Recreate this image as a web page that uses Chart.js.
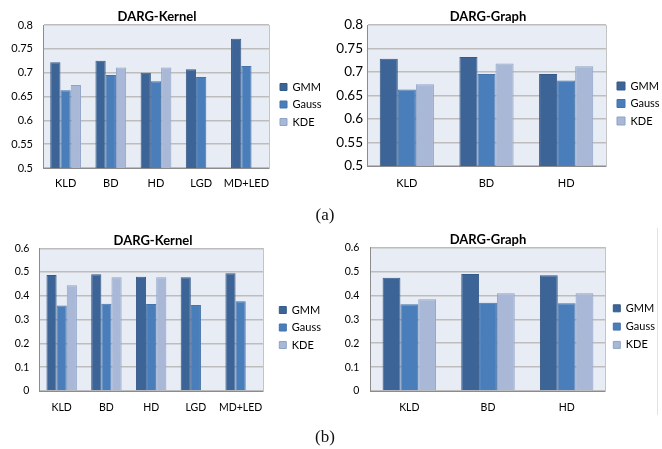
<!DOCTYPE html>
<html><head><meta charset="utf-8">
<script src="https://cdn.jsdelivr.net/npm/chart.js@4.4.1/dist/chart.umd.min.js"></script>
<style>
html,body{margin:0;padding:0;background:#fff;width:662px;height:449px;overflow:hidden;position:relative;}
canvas{position:absolute;}
.lab{position:absolute;font-family:"Liberation Serif","DejaVu Serif",serif;font-size:17px;color:#111;transform:translate(-50%,-50%);white-space:nowrap;}
</style></head><body>
<canvas id="cA" width="346" height="215" style="left:-16px;top:0px"></canvas>
<canvas id="cB" width="348" height="215" style="left:314px;top:0px"></canvas>
<canvas id="cC" width="354" height="215" style="left:-24px;top:225px"></canvas>
<canvas id="cD" width="348" height="215" style="left:314px;top:225px"></canvas>
<div class="lab" style="left:325px;top:215px">(a)</div>
<div class="lab" style="left:325px;top:437px">(b)</div>
<div style="position:absolute;left:657px;top:228px;width:1px;height:187px;background:#e2e2e2"></div>
<script>
// ---- data ----
const seriesNames = ['GMM', 'Gauss', 'KDE'];
const kernelCategories = ['KLD', 'BD', 'HD', 'LGD', 'MD+LED'];
const graphCategories = ['KLD', 'BD', 'HD'];

const yTicksTop = ['0.5', '0.55', '0.6', '0.65', '0.7', '0.75', '0.8'];
const yTicksBottom = ['0', '0.1', '0.2', '0.3', '0.4', '0.5', '0.6'];

// (a) DARG-Kernel
const aKernelGMM   = [0.722, 0.725, 0.700, 0.707, 0.771];
const aKernelGauss = [0.663, 0.695, 0.682, 0.691, 0.714];
const aKernelKDE   = [0.674, 0.711, 0.711, null, null];
// (a) DARG-Graph
const aGraphGMM   = [0.728, 0.732, 0.696];
const aGraphGauss = [0.663, 0.696, 0.682];
const aGraphKDE   = [0.674, 0.718, 0.712];
// (b) DARG-Kernel
const bKernelGMM   = [0.488, 0.491, 0.480, 0.478, 0.495];
const bKernelGauss = [0.360, 0.367, 0.366, 0.362, 0.377];
const bKernelKDE   = [0.445, 0.478, 0.478, null, null];
// (b) DARG-Graph
const bGraphGMM   = [0.474, 0.490, 0.485];
const bGraphGauss = [0.363, 0.370, 0.367];
const bGraphKDE   = [0.384, 0.409, 0.409];

// ---- styling ----
const FONT = 'Lato, "Open Sans", "Liberation Sans", sans-serif';
const fills = ['#3d6496', '#4a7ebb', '#a8b8d6'];
const edges = ['#365a88', '#4472a9', '#8fa3c8'];

const plotBg = {
  id: 'plotBg',
  beforeDraw(chart) {
    const { ctx, chartArea: a } = chart;
    ctx.save();
    ctx.fillStyle = '#e8ecf4';
    ctx.fillRect(a.left, a.top, a.right - a.left, a.bottom - a.top);
    ctx.restore();
  }
};
function legendWidth(w) {
  return {
    id: 'legendWidth',
    beforeInit(chart) {
      const lg = chart.legend;
      if (!lg) return;
      const f = lg.fit.bind(lg);
      lg.fit = function () { f(); this.width = w; };
    }
  };
}

function makeChart(id, title, cats, gmm, gauss, kde, yMin, yMax, yStep, yLabels, g) {
  const vals = [gmm, gauss, kde];
  new Chart(document.getElementById(id), {
    type: 'bar',
    data: {
      labels: cats,
      datasets: seriesNames.map((n, i) => ({
        label: n, data: vals[i], backgroundColor: fills[i], borderColor: edges[i], borderWidth: 1
      }))
    },
    options: {
      responsive: false,
      animation: false,
      layout: { padding: { left: 0, top: 0, right: 0, bottom: g.padB } },
      datasets: { bar: { categoryPercentage: 0.68, barPercentage: 1 } },
      plugins: {
        title: { display: true, text: title, color: '#000',
          font: { family: FONT, size: 13, weight: 'bold', lineHeight: 1.2 }, padding: { top: g.titleTop, bottom: 0 } },
        legend: { position: 'right', align: 'center',
          labels: { boxWidth: g.box, boxHeight: g.box, color: '#000',
            font: { family: FONT, size: 11 }, padding: g.legPad } },
        tooltip: { enabled: false }
      },
      scales: {
        x: {
          grid: { display: false, drawTicks: false },
          border: { display: true, color: '#8c8c8c' },
          ticks: { font: { family: FONT, size: g.xFont }, color: '#000', padding: g.xPad,
            maxRotation: 0, autoSkip: false },
          afterFit: s => { s.height = g.xH; }
        },
        y: {
          min: yMin, max: yMax,
          ticks: { stepSize: yStep, font: { family: FONT, size: g.yFont }, color: '#000',
            padding: g.yPad, callback: (v, i) => yLabels[i] },
          grid: { color: '#bdbdbd', lineWidth: 1.5, drawTicks: false },
          border: { display: true, color: '#8c8c8c' },
          afterFit: s => { s.width = g.yW; }
        },
        y2: {
          position: 'right', display: true,
          grid: { display: false, drawTicks: false },
          ticks: { display: false },
          border: { display: true, color: '#c4c4c4' },
          afterFit: s => { s.width = g.y2W; }
        }
      }
    },
    plugins: [plotBg, legendWidth(g.LW)]
  });
}

makeChart('cA', 'DARG-Kernel', kernelCategories, aKernelGMM, aKernelGauss, aKernelKDE,
  0.5, 0.8, 0.05, yTicksTop,
  { padB: 6, titleTop: 9.4, box: 7, legPad: 6.5, xFont: 11, xPad: 8.4, xH: 41,
    yFont: 11, yPad: 10, yW: 59, y2W: 4.5, LW: 56.5 });
makeChart('cB', 'DARG-Graph', graphCategories, aGraphGMM, aGraphGauss, aGraphKDE,
  0.5, 0.8, 0.05, yTicksTop,
  { padB: 8, titleTop: 9.4, box: 8, legPad: 6.5, xFont: 11, xPad: 10.4, xH: 41,
    yFont: 13.5, yPad: 4, yW: 53, y2W: 4.5, LW: 51.5 });
makeChart('cC', 'DARG-Kernel', kernelCategories, bKernelGMM, bKernelGauss, bKernelKDE,
  0, 0.6, 0.1, yTicksBottom,
  { padB: 10, titleTop: 7.7, box: 7, legPad: 6.5, xFont: 10.5, xPad: 10.4, xH: 39,
    yFont: 10.5, yPad: 10, yW: 63.3, y2W: 9.8, LW: 57.2 });
makeChart('cD', 'DARG-Graph', graphCategories, bGraphGMM, bGraphGauss, bGraphKDE,
  0, 0.6, 0.1, yTicksBottom,
  { padB: 11.8, titleTop: 7.1, box: 7, legPad: 7.3, xFont: 10.5, xPad: 10.4, xH: 37.2,
    yFont: 10.5, yPad: 10.7, yW: 56, y2W: 0.01, LW: 56 });
</script>
</body></html>
